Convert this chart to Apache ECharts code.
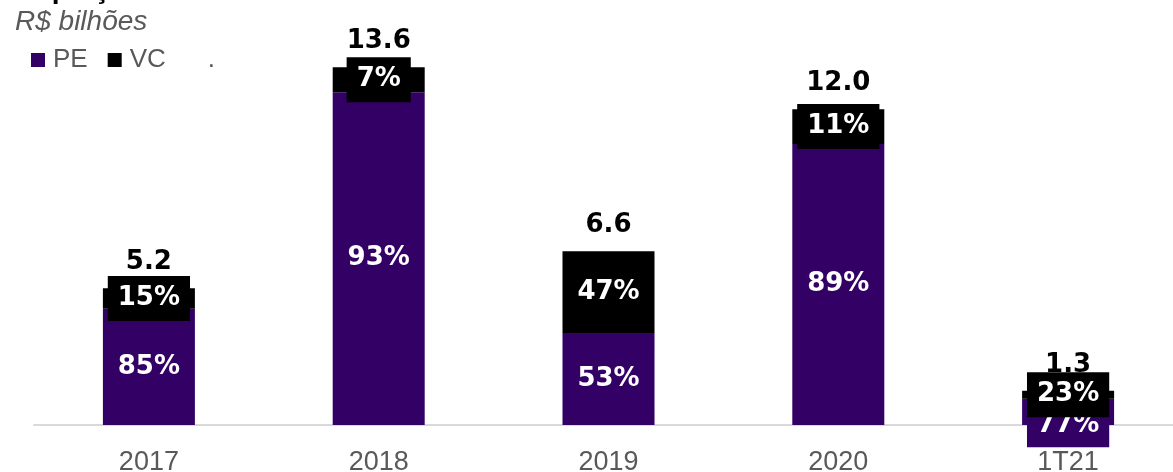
<!DOCTYPE html>
<html>
<head>
<meta charset="utf-8">
<script src="https://cdn.jsdelivr.net/npm/echarts@6/dist/echarts.min.js"></script>
<style>
  html, body { margin: 0; padding: 0; background: #fff; }
  #chart { width: 1173px; height: 472px; }
</style>
</head>
<body>
<div id="chart"></div>
<script>
// data
var categories = ['2017', '2018', '2019', '2020', '1T21'];
var totals = [5.2, 13.6, 6.6, 12.0, 1.3];      // R$ bilhões
var pePct = [85, 93, 53, 89, 77];
var vcPct = [15, 7, 47, 11, 23];

var PURPLE = '#330066';
var FONT = '"Liberation Sans", Arial, sans-serif';
var BOLD_FONT = '"DejaVu Sans", "Liberation Sans", sans-serif'; // wider, closer to the stretched original

// segment heights come from total * share
var peValues = totals.map(function (t, i) { return +(t * pePct[i] / 100).toFixed(3); });
var vcValues = totals.map(function (t, i) { return +(t * vcPct[i] / 100).toFixed(3); });

var pctLabel = function (bg, pcts) {
	return {
		show: true,
		position: 'inside',
		formatter: function (p) { return pcts[p.dataIndex] + '%'; },
		color: '#fff',
		fontFamily: BOLD_FONT,
		fontWeight: 'bold',
		fontSize: 26,
		lineHeight: 29,
		backgroundColor: bg,
		padding: [8, 10]
	};
};

var myChart = echarts.init(document.getElementById('chart'));

var option = {
	animation: false,
	// last bar runs past the right edge in the original, so let the grid overflow
	grid: { left: 34, right: -10, top: 4, bottom: 47, outerBoundsMode: 'none', containLabel: false },
	legend: {
		left: 26, top: 42,
		itemWidth: 14, itemHeight: 14, itemGap: 20,
		textStyle: { color: '#595959', fontFamily: FONT, fontSize: 26, padding: [0, 0, 0, 3] },
		data: [
			{ name: 'PE', icon: 'rect', itemStyle: { color: PURPLE } },
			{ name: 'VC', icon: 'rect', itemStyle: { color: '#000' } },
			{ name: '.', icon: 'rect', itemStyle: { color: 'rgba(0,0,0,0)' } }
		],
		selectedMode: false
	},
	graphic: [
		{ // title, cut off at the top edge in the original
			type: 'text', left: 16, top: -24,
			style: { text: 'Captação', fill: '#000', font: 'bold 28px ' + FONT }
		},
		{
			type: 'text', left: 15, top: 8,
			style: { text: 'R$ bilhões', fill: '#595959', font: 'italic 28px ' + FONT }
		}
	],
	xAxis: {
		type: 'category',
		data: categories,
		axisLine: { lineStyle: { color: '#d9d9d9', width: 2 } },
		axisTick: { show: false },
		axisLabel: { color: '#595959', fontFamily: FONT, fontSize: 27, margin: 24 }
	},
	yAxis: { type: 'value', min: 0, max: 16, show: false },
	series: [
		{
			name: 'PE', type: 'bar', stack: 'total', barWidth: 92,
			itemStyle: { color: PURPLE },
			label: pctLabel(PURPLE, pePct),
			data: peValues.map(function (v, i) {
				// last label got pushed below the axis in the original
				return i === 4 ? { value: v, label: { offset: [0, 13] } } : v;
			})
		},
		{
			name: 'VC', type: 'bar', stack: 'total', barWidth: 92,
			itemStyle: { color: '#000' },
			label: pctLabel('#000', vcPct),
			data: vcValues
		},
		{
			name: '.', type: 'bar', stack: 'total', barWidth: 92,
			itemStyle: { color: 'rgba(0,0,0,0)' },
			label: {
				show: true, position: 'top', distance: 13,
				formatter: function (p) { return totals[p.dataIndex].toFixed(1); },
				color: '#000', fontFamily: BOLD_FONT, fontWeight: 'bold', fontSize: 26
			},
			data: totals.map(function () { return 0; })
		}
	]
};
myChart.setOption(option);
</script>
</body>
</html>
